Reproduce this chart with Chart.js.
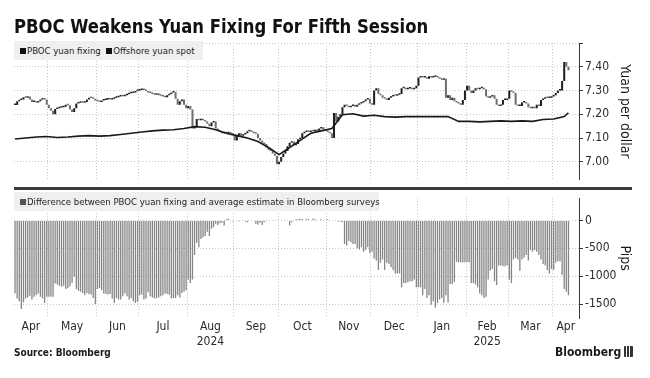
<!DOCTYPE html>
<html>
<head>
<meta charset="utf-8">
<script src="https://cdn.jsdelivr.net/npm/chart.js@4.4.1/dist/chart.umd.min.js"></script>
<style>
  body { margin: 0; width: 650px; height: 378px; position: relative; overflow: hidden; background: #fff;
         font-family: "DejaVu Sans Condensed", "DejaVu Sans", sans-serif; color: #1a1a1a; }
  canvas { position: absolute; left: 0; }
  #top { top: 0; }
  #bottom { top: 189px; }
  #title { position: absolute; left: 14px; top: 14px; font-size: 20px; font-weight: bold; line-height: 24px;
           white-space: nowrap; transform-origin: 0 0; color: #111; }
  .legend { position: absolute; left: 14px; height: 19px; background: #efefef; font-size: 9.5px; line-height: 19px;
            padding-left: 6px; box-sizing: border-box; white-space: nowrap; color: #222; }
  #legTop { top: 41px; width: 189px; }
  #legBottom { top: 192px; width: 365px; }
  .sq { display: inline-block; width: 6px; height: 6px; background: #111; margin-right: 1px; }
  #legBottom .sq { background: #555; }
  #sep { position: absolute; left: 14px; top: 187px; width: 618px; height: 3px; background: #3a3a3a; }
  #source { position: absolute; left: 14px; top: 347px; font-size: 10px; font-weight: bold; }
  #logo { position: absolute; left: 555px; top: 345px; font-size: 12px; font-weight: bold; }
  .icon { display: inline-block; width: 9px; height: 11px; margin-left: 3px; vertical-align: -1px; border-radius: 1px;
          background: linear-gradient(90deg, #333 0 2px, #fff 2px 3px, #333 3px 5px, #fff 5px 6px, #333 6px); }
</style>
</head>
<body>
<canvas id="top" width="650" height="189"></canvas>
<canvas id="bottom" width="650" height="189"></canvas>
<div id="title">PBOC Weakens Yuan Fixing For Fifth Session</div>
<div class="legend" id="legTop"><span class="sq"></span>PBOC yuan fixing&nbsp;&nbsp;<span class="sq"></span>Offshore yuan spot</div>
<div class="legend" id="legBottom"><span class="sq"></span>Difference between PBOC yuan fixing and average estimate in Bloomberg surveys</div>
<div id="sep"></div>
<div id="source">Source: Bloomberg</div>
<div id="logo">Bloomberg<span class="icon"></span></div>
<script>
// one value per weekday, Tue 9 Apr 2024 .. Thu 10 Apr 2025, one line per week
const spotClose = [
  7.239, 7.255, 7.26, 7.262,
  7.272, 7.27, 7.275, 7.262, 7.252,
  7.252, 7.25, 7.255, 7.262, 7.265,
  7.262, 7.24, 7.225, 7.215, 7.2,
  7.222, 7.225, 7.228, 7.23, 7.232,
  7.24, 7.238, 7.22, 7.21, 7.225,
  7.245, 7.248, 7.25, 7.248, 7.252,
  7.262, 7.27, 7.268, 7.265, 7.258,
  7.255, 7.252, 7.258, 7.26, 7.262,
  7.265, 7.262, 7.265, 7.27, 7.272,
  7.275, 7.278, 7.276, 7.28, 7.284,
  7.288, 7.29, 7.292, 7.298, 7.3,
  7.302, 7.305, 7.302, 7.298, 7.292,
  7.29, 7.285, 7.282, 7.288, 7.28,
  7.278, 7.275, 7.272, 7.28, 7.285,
  7.292, 7.295, 7.265, 7.24, 7.255,
  7.262, 7.24, 7.225, 7.235, 7.22,
  7.14, 7.15, 7.18, 7.175, 7.18,
  7.175, 7.17, 7.16, 7.15, 7.165,
  7.17, 7.14, 7.13, 7.125, 7.12,
  7.122, 7.12, 7.125, 7.118, 7.115,
  7.09, 7.11, 7.12, 7.11, 7.115,
  7.12, 7.128, 7.13, 7.125, 7.12,
  7.118, 7.1, 7.09, 7.08, 7.075,
  7.06, 7.05, 7.045, 7.035, 7.025,
  6.99, 7.0, 7.02, 7.035, 7.045,
  7.065, 7.08, 7.085, 7.07, 7.075,
  7.095, 7.1, 7.12, 7.125, 7.13,
  7.125, 7.13, 7.128, 7.135, 7.13,
  7.14, 7.145, 7.135, 7.13, 7.125,
  7.12, 7.1, 7.205, 7.17, 7.19,
  7.2, 7.23, 7.24, 7.235, 7.23,
  7.235, 7.24, 7.232, 7.24, 7.245,
  7.25, 7.255, 7.262, 7.265, 7.245,
  7.24, 7.3, 7.31, 7.285, 7.28,
  7.27, 7.265, 7.26, 7.27, 7.275,
  7.28, 7.278, 7.282, 7.285, 7.31,
  7.31, 7.305, 7.308, 7.31, 7.305,
  7.31, 7.32, 7.355, 7.36, 7.355,
  7.355, 7.35, 7.36, 7.355, 7.358,
  7.36, 7.355, 7.35, 7.345, 7.35,
  7.27, 7.28, 7.26, 7.27, 7.255,
  7.25, 7.245, 7.24, 7.26, 7.3,
  7.32, 7.3, 7.29, 7.3, 7.31,
  7.305, 7.31, 7.31, 7.305, 7.275,
  7.27, 7.275, 7.28, 7.265, 7.24,
  7.235, 7.24, 7.26, 7.26, 7.265,
  7.3, 7.295, 7.29, 7.24, 7.235,
  7.235, 7.25, 7.25, 7.245, 7.23,
  7.225, 7.228, 7.225, 7.24, 7.235,
  7.26, 7.265, 7.27, 7.268, 7.27,
  7.275, 7.28, 7.29, 7.3, 7.3,
  7.34, 7.42, 7.4, 7.385
];

const fixingDiff = [
  -1310, -1400, -1450, -1590,
  -1470, -1400, -1380, -1350, -1420,
  -1370, -1340, -1310, -1370, -1400,
  -1480, -1370, -1370, -1370, -1370,
  -1130, -1150, -1170, -1190, -1170,
  -1230, -1210, -1180, -1120, -1010,
  -1230, -1260, -1280, -1300, -1340,
  -1300, -1320, -1330, -1390, -1500,
  -1230, -1210, -1250, -1310, -1320,
  -1330, -1320, -1400, -1480, -1390,
  -1420, -1420, -1360, -1310, -1360,
  -1420, -1390, -1450, -1480, -1460,
  -1340, -1330, -1420, -1400, -1290,
  -1360, -1380, -1400, -1390, -1380,
  -1360, -1340, -1310, -1320, -1330,
  -1400, -1390, -1390, -1340, -1380,
  -1300, -1280, -1250, -1060, -1120,
  -1060, -620, -400, -480, -330,
  -300, -280, -200, -280, -150,
  -120, -60, -80, -50, -40,
  -90, 20, 30, 10, -20,
  -10, 10, -20, 0, 10,
  -20, -30, -10, 0, -10,
  -60, -70, -40, -80, -30,
  -10, 0, 10, -10, 0,
  10, 0, 0, 0, 0,
  -10, -90, -30, 10, 20,
  20, 30, 20, 10, 30,
  20, 10, 30, 20, 10,
  10, 20, 0, -10, 20,
  10, 0, -10, -10, -20,
  -20, -30, -420, -450, -370,
  -390, -420, -420, -500, -520,
  -480, -560, -530, -480, -590,
  -560, -680, -720, -890, -760,
  -700, -890, -760, -780, -840,
  -890, -950, -950, -950, -1200,
  -1120, -1120, -1110, -1090, -1090,
  -1060, -1200, -1200, -1200, -1340,
  -1230, -1390, -1340, -1510, -1450,
  -1560, -1480, -1420, -1390, -1480,
  -1340, -1470, -1140, -1140, -1100,
  -740, -750, -750, -750, -750,
  -750, -750, -1120, -1120, -1150,
  -1200, -1310, -1340, -1390, -1370,
  -1060, -900, -870, -1090, -1160,
  -810, -810, -820, -820, -810,
  -1060, -1120, -700, -670, -700,
  -900, -700, -670, -620, -720,
  -530, -560, -530, -560, -620,
  -700, -780, -810, -890, -950,
  -870, -890, -760, -730, -730,
  -980, -1230, -1280, -1340
];

// PBOC fixing, every Tuesday from 9 Apr 2024, plus the 10 Apr 2025 print
const fixingWeekly = [
  7.096, 7.100, 7.104, 7.106, 7.102, 7.104, 7.108, 7.110, 7.108, 7.110,
  7.115, 7.120, 7.125, 7.130, 7.133, 7.135, 7.140, 7.148, 7.145, 7.135,
  7.120, 7.110, 7.100, 7.085, 7.060, 7.030, 7.060, 7.090, 7.120, 7.130,
  7.140, 7.198, 7.202, 7.192, 7.196, 7.190, 7.188, 7.190, 7.190, 7.190,
  7.190, 7.190, 7.170, 7.170, 7.168, 7.170, 7.172, 7.170, 7.172, 7.170,
  7.178, 7.180, 7.190
];
const fixingLatest = 7.206;

const monthLabels = ['Apr', 'May', 'Jun', 'Jul', 'Aug', 'Sep', 'Oct', 'Nov', 'Dec', 'Jan', 'Feb', 'Mar', 'Apr'];
const yearLabels = ['', '', '', '', '2024', '', '', '', '', '', '2025', '', ''];
const spotTicks = [7.0, 7.1, 7.2, 7.3, 7.4, 7.5];
const spotTickLabels = ['7.00', '7.10', '7.20', '7.30', '7.40', ''];
const pipTicks = [-1500, -1000, -500, 0];
const pipTickLabels = ['-1500', '-1000', '-500', '0'];

// ---- weekdays, Bloomberg style axis: one slot per weekday
const DAY = 864e5;
const weekdays = [];
for (let t = Date.UTC(2024, 3, 9); t <= Date.UTC(2025, 3, 10); t += DAY) {
  const wd = new Date(t).getUTCDay();
  wd !== 0 && wd !== 6 && weekdays.push(new Date(t));
}
if (weekdays.length !== spotClose.length || weekdays.length !== fixingDiff.length) {
  console.error('length mismatch', weekdays.length, spotClose.length, fixingDiff.length);
}

const xMin = -0.5;
const xMax = 267;

// month boundaries sit half a slot before the first weekday of each month
const monthStarts = [xMin];
weekdays.forEach((d, i) => {
  if (i && d.getUTCMonth() !== weekdays[i - 1].getUTCMonth()) monthStarts.push(i - 0.5);
});
monthStarts.push(xMax);

const xTicks = [];
monthLabels.forEach((m, i) => {
  if (i) xTicks.push({ value: monthStarts[i], label: '', start: true });
  const text = yearLabels[i] ? [m, yearLabels[i]] : m;
  xTicks.push({ value: (monthStarts[i] + monthStarts[i + 1]) / 2, label: text, start: false });
});

const spotBars = spotClose.map((v, i) => ({ x: i, y: [i ? spotClose[i - 1] : v, v] }));
const diffBars = fixingDiff.map((v, i) => ({ x: i, y: v }));
const fixingPoints = fixingWeekly.map((v, k) => ({ x: 5 * k, y: v }));
fixingPoints.push({ x: weekdays.length - 1, y: fixingLatest });

// ---- styling
const gridColor = '#c6c6c6';
const axisColor = '#3a3a3a';
Chart.defaults.font.family = "'DejaVu Sans Condensed', 'DejaVu Sans', sans-serif";
Chart.defaults.font.size = 12;
Chart.defaults.color = '#2a2a2a';

const makeX = (showLabels) => ({
  type: 'linear',
  min: xMin,
  max: xMax,
  offset: false,
  grid: {
    offset: false,
    drawTicks: false,
    color: (ctx) => (xTicks[ctx.index] && xTicks[ctx.index].start ? gridColor : 'rgba(0,0,0,0)')
  },
  border: { display: false, dash: [1, 2] },
  afterBuildTicks: (scale) => {
    scale.ticks = xTicks.map((t) => ({ value: t.value }));
  },
  afterFit: (scale) => {
    scale.height = showLabels ? 40 : 0;
  },
  ticks: {
    display: showLabels,
    autoSkip: false,
    maxRotation: 0,
    padding: 2,
    callback: (v, i) => xTicks[i].label
  }
});

const makeY = (min, max, ticks, labels, title) => ({
  type: 'linear',
  position: 'right',
  min: min,
  max: max,
  afterBuildTicks: (scale) => {
    scale.ticks = ticks.map((v) => ({ value: v }));
  },
  afterFit: (scale) => {
    scale.width = 71;
  },
  grid: { color: gridColor, tickColor: axisColor, tickLength: 4, tickBorderDash: [] },
  border: { display: true, color: axisColor, dash: [1, 2] },
  ticks: { padding: 2, callback: (v, i) => labels[i] },
  title: { display: true, text: title, font: { size: 14 }, color: '#1a1a1a', padding: { top: 17, bottom: 0 } }
});

const common = {
  responsive: false,
  animation: false,
  events: [],
  plugins: { legend: { display: false }, tooltip: { enabled: false } }
};

new Chart(document.getElementById('top'), {
  type: 'bar',
  data: {
    datasets: [
      {
        type: 'line',
        label: 'PBOC yuan fixing',
        data: fixingPoints,
        borderColor: '#1a1a1a',
        borderWidth: 1.6,
        pointRadius: 0,
        tension: 0,
        order: 0
      },
      {
        type: 'bar',
        label: 'Offshore yuan spot',
        data: spotBars,
        backgroundColor: (ctx) => (ctx.raw && ctx.raw.y[1] >= ctx.raw.y[0] ? '#1e1e1e' : '#6e6e6e'),
        barThickness: 2,
        minBarLength: 1.5,
        inflateAmount: 0,
        order: 1
      }
    ]
  },
  options: {
    ...common,
    layout: { padding: { left: 14, right: 0, top: 43, bottom: 2 } },
    scales: {
      x: makeX(false),
      y: makeY(6.924, 7.5, spotTicks, spotTickLabels, 'Yuan per dollar')
    }
  }
});

new Chart(document.getElementById('bottom'), {
  type: 'bar',
  data: {
    datasets: [
      {
        label: 'Difference between PBOC yuan fixing and average estimate in Bloomberg surveys',
        data: diffBars,
        backgroundColor: '#858585',
        barThickness: 1.3,
        inflateAmount: 0
      }
    ]
  },
  options: {
    ...common,
    layout: { padding: { left: 14, right: 0, top: 0, bottom: 20 } },
    scales: {
      x: makeX(true),
      y: makeY(-1750, 400, pipTicks, pipTickLabels, 'Pips')
    }
  }
});

// squeeze title to the reference width
const title = document.getElementById('title');
title.style.transform = 'scaleX(' + (414 / title.offsetWidth) + ')';
</script>
</body>
</html>
